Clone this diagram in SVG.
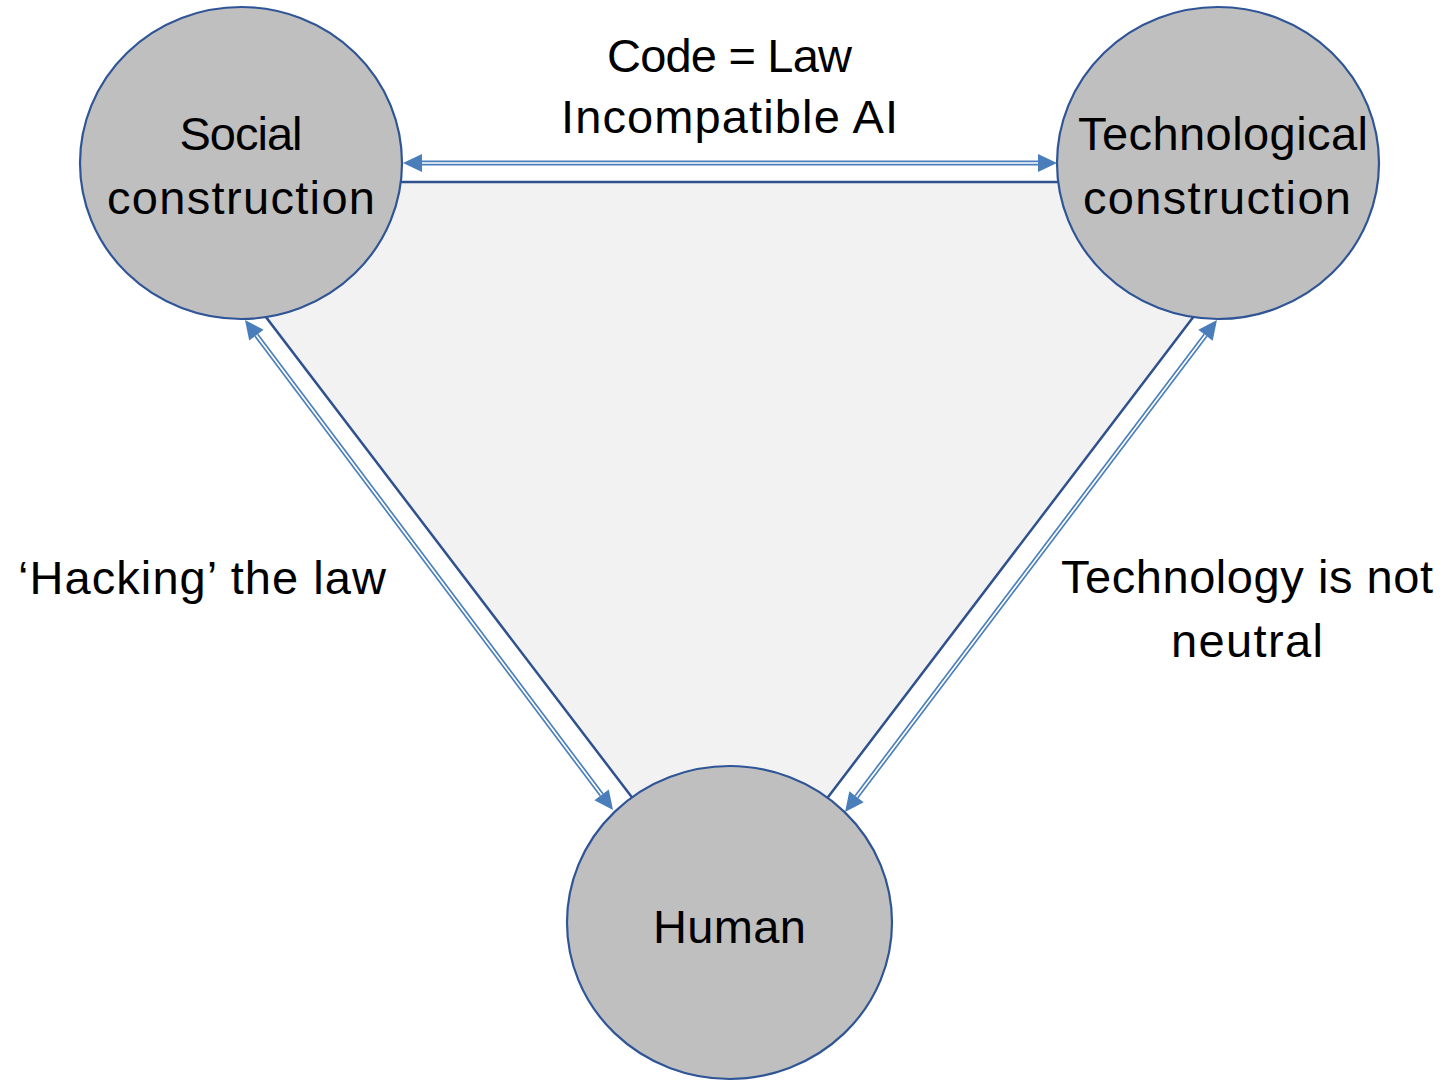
<svg xmlns="http://www.w3.org/2000/svg" width="1442" height="1081" viewBox="0 0 1442 1081">
<style>
.node{fill:#bfbfbf;stroke:#2f5597;stroke-width:2.2}
.lbl{font-family:"Liberation Sans",Arial,sans-serif;font-size:47px;fill:#000;text-anchor:middle}
.outer{stroke:#4a7ebb;stroke-width:5;fill:none}
.inner{stroke:#ffffff;stroke-width:1.7;fill:none}
</style>
<defs>
<marker id="ah" markerUnits="userSpaceOnUse" markerWidth="20" markerHeight="19" refX="0" refY="9" orient="auto-start-reverse" overflow="visible">
<path d="M0,0 L19,9 L0,18 z" fill="#4a7ebb"/>
</marker>
</defs>
<rect width="1442" height="1081" fill="#ffffff"/>
<polygon id="triangle" points="163,182 1296,182 730,926" fill="#f2f2f2" stroke="#2f528f" stroke-width="2.5"/>
<g id="social">
<ellipse class="node" cx="241" cy="163" rx="161" ry="156"/>
<text class="lbl" x="241" y="150" textLength="123" lengthAdjust="spacing">Social</text>
<text class="lbl" x="241" y="214" textLength="268" lengthAdjust="spacing">construction</text>
</g>
<g id="technological">
<ellipse class="node" cx="1218" cy="163" rx="161" ry="156"/>
<text class="lbl" x="1223" y="150" textLength="290" lengthAdjust="spacing">Technological</text>
<text class="lbl" x="1217" y="214" textLength="268" lengthAdjust="spacing">construction</text>
</g>
<g id="human">
<ellipse class="node" cx="729.5" cy="922.5" rx="162.5" ry="156.5"/>
<text class="lbl" x="729.5" y="943" textLength="153" lengthAdjust="spacing">Human</text>
</g>
<g id="connectors">
<g>
<line class="outer" x1="422" y1="163" x2="1038" y2="163" marker-start="url(#ah)" marker-end="url(#ah)"/>
<line class="inner" x1="422" y1="163" x2="1038" y2="163"/>
</g>
<g>
<line class="outer" x1="256.4" y1="335.2" x2="601.6" y2="794.8" marker-start="url(#ah)" marker-end="url(#ah)"/>
<line class="inner" x1="256.4" y1="335.2" x2="601.6" y2="794.8"/>
</g>
<g>
<line class="outer" x1="1205.5" y1="335.2" x2="856.5" y2="796.8" marker-start="url(#ah)" marker-end="url(#ah)"/>
<line class="inner" x1="1205.5" y1="335.2" x2="856.5" y2="796.8"/>
</g>
</g>
<g id="labels">
<text class="lbl" x="729.5" y="72" textLength="245" lengthAdjust="spacing">Code = Law</text>
<text class="lbl" x="729.5" y="133" textLength="337" lengthAdjust="spacing">Incompatible AI</text>
<text class="lbl" x="202" y="594" textLength="368" lengthAdjust="spacing">‘Hacking’ the law</text>
<text class="lbl" x="1247" y="593" textLength="372" lengthAdjust="spacing">Technology is not</text>
<text class="lbl" x="1247" y="657" textLength="152" lengthAdjust="spacing">neutral</text>
</g>
</svg>
